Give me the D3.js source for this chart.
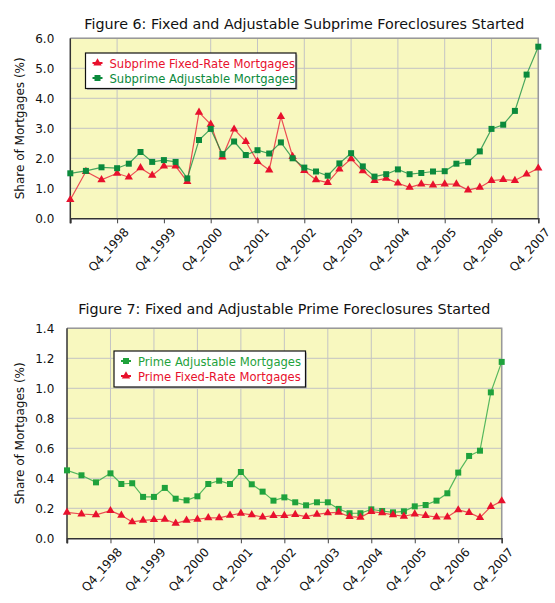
<!DOCTYPE html>
<html>
<head>
  <meta charset="utf-8">
  <title>Fixed and Adjustable Foreclosures Started</title>
  <style>
    body {
      margin: 0;
      padding: 0;
      background: white;
      font-family: "DejaVu Sans", Verdana, sans-serif;
    }
    .title { font-size: 14.3px; fill: #111; text-anchor: middle; }
    .ylabel { font-size: 12px; fill: #111; text-anchor: middle; }
    .tick text { font-size: 12px; fill: #111; }
    .grid line { stroke: #c4c4c4; stroke-width: 1; }
    .legend text { font-size: 11.6px; }
  </style>
</head>
<body>
  <div id="chart"></div>

  <script src="https://d3js.org/d3.v7.min.js"></script>
  <script>

  // quarters on the category axis
  var quarters = [
    "Q1_1998", "Q2_1998", "Q3_1998", "Q4_1998",
    "Q1_1999", "Q2_1999", "Q3_1999", "Q4_1999",
    "Q1_2000", "Q2_2000", "Q3_2000", "Q4_2000",
    "Q1_2001", "Q2_2001", "Q3_2001", "Q4_2001",
    "Q1_2002", "Q2_2002", "Q3_2002", "Q4_2002",
    "Q1_2003", "Q2_2003", "Q3_2003", "Q4_2003",
    "Q1_2004", "Q2_2004", "Q3_2004", "Q4_2004",
    "Q1_2005", "Q2_2005", "Q3_2005", "Q4_2005",
    "Q1_2006", "Q2_2006", "Q3_2006", "Q4_2006",
    "Q1_2007", "Q2_2007", "Q3_2007", "Q4_2007"
  ]

  // Figure 6 series (share of mortgages, %)
  var subprimeFixed = [0.62, 1.56, 1.28, 1.50, 1.37, 1.68, 1.43, 1.74, 1.74, 1.22,
    3.53, 3.13, 2.04, 2.97, 2.56, 1.89, 1.61, 3.39, 2.06, 1.59,
    1.28, 1.19, 1.64, 1.98, 1.58, 1.26, 1.33, 1.17, 1.03, 1.14,
    1.11, 1.14, 1.14, 0.94, 1.03, 1.26, 1.29, 1.26, 1.47, 1.67]
  var subprimeAdj = [1.50, 1.58, 1.70, 1.67, 1.82, 2.21, 1.88, 1.94, 1.88, 1.33,
    2.61, 2.98, 2.14, 2.56, 2.11, 2.27, 2.16, 2.53, 2.00, 1.69,
    1.56, 1.42, 1.83, 2.17, 1.73, 1.39, 1.47, 1.63, 1.47, 1.51,
    1.56, 1.57, 1.82, 1.87, 2.23, 2.98, 3.12, 3.58, 4.79, 5.72]

  // Figure 7 series (share of mortgages, %)
  var primeAdj = [0.453, 0.420, 0.373, 0.433, 0.362, 0.367, 0.276, 0.276, 0.336, 0.264,
    0.253, 0.280, 0.362, 0.384, 0.362, 0.442, 0.360, 0.311, 0.251, 0.273,
    0.240, 0.220, 0.240, 0.240, 0.196, 0.167, 0.167, 0.193, 0.182, 0.173,
    0.180, 0.213, 0.222, 0.251, 0.300, 0.438, 0.549, 0.584, 0.973, 1.176]
  var primeFixed = [0.173, 0.162, 0.156, 0.184, 0.153, 0.109, 0.120, 0.124, 0.127, 0.100,
    0.120, 0.127, 0.136, 0.136, 0.153, 0.167, 0.156, 0.142, 0.151, 0.151,
    0.158, 0.144, 0.160, 0.169, 0.173, 0.144, 0.140, 0.178, 0.169, 0.156,
    0.147, 0.162, 0.151, 0.142, 0.142, 0.189, 0.171, 0.138, 0.211, 0.249]

  var yTicks6 = [0, 1, 2, 3, 4, 5, 6]
  var yTicks7 = [0, 0.2, 0.4, 0.6, 0.8, 1.0, 1.2, 1.4]

  var red = "#e8112d"

  var svg = d3.select("#chart")
    .append("svg")
    .attr("width", 555)
    .attr("height", 603)

  drawChart({
    title: "Figure 6: Fixed and Adjustable Subprime Foreclosures Started",
    titleY: 29,
    left: 70.3, right: 538.3, top: 38.3, bottom: 218.3,
    yMax: 6, yTicks: yTicks6, yFormat: d3.format(".1f"), yPad: 16,
    noGrid: ["Q4_1999"],
    series: [
      {name: "Subprime Fixed-Rate Mortgages", values: subprimeFixed, color: red, shape: "tri"},
      {name: "Subprime Adjustable Mortgages", values: subprimeAdj, color: "#0b8a3c", shape: "sq"}
    ],
    legend: {x: 85.5, y: 53, w: 210.5, h: 35.5}
  })

  drawChart({
    title: "Figure 7: Fixed and Adjustable Prime Foreclosures Started",
    titleY: 314,
    left: 67, right: 501.7, top: 328.3, bottom: 538.3,
    yMax: 1.4, yTicks: yTicks7, yFormat: d3.format(".1f"), yPad: 12.7,
    noGrid: [],
    series: [
      {name: "Prime Adjustable Mortgages", values: primeAdj, color: "#1fa23c", shape: "sq"},
      {name: "Prime Fixed-Rate Mortgages", values: primeFixed, color: red, shape: "tri"}
    ],
    legend: {x: 114, y: 351, w: 191.5, h: 36}
  })

  function drawChart(c) {
    var w = c.right - c.left

    // the first year only has three steps, the others four
    var x = d3.scaleLinear()
      .domain([0, 3, quarters.length - 1])
      .range([c.left, c.left + w / 10, c.right])

    var y = d3.scaleLinear()
      .domain([0, c.yMax])
      .range([c.bottom, c.top])

    var labelIdx = quarters
      .map(function (q, i) { return i })
      .filter(function (i) { return quarters[i].indexOf("Q4") === 0 })

    // plot background
    svg.append("rect")
      .attr("x", c.left).attr("y", c.top)
      .attr("width", w).attr("height", c.bottom - c.top)
      .attr("fill", "#f8f8bf")

    // grid lines
    var grid = svg.append("g").attr("class", "grid")
    grid.selectAll(".hg")
      .data(c.yTicks.slice(1))
      .enter().append("line")
      .attr("x1", c.left).attr("x2", c.right)
      .attr("y1", function (d) { return y(d) })
      .attr("y2", function (d) { return y(d) })
    grid.selectAll(".vg")
      .data(labelIdx.filter(function (i) { return c.noGrid.indexOf(quarters[i]) < 0 }))
      .enter().append("line")
      .attr("x1", function (i) { return x(i) })
      .attr("x2", function (i) { return x(i) })
      .attr("y1", c.top).attr("y2", c.bottom)

    // frame: grey top/right, dark axes
    svg.append("path")
      .attr("d", "M" + c.left + "," + c.top + "H" + c.right + "V" + c.bottom)
      .attr("fill", "none").attr("stroke", "#999").attr("stroke-width", 1.5)

    // y axis
    var yAxis = svg.append("g")
      .attr("transform", "translate(" + c.left + ",0)")
      .call(d3.axisLeft(y).tickValues(c.yTicks).tickFormat(c.yFormat)
        .tickSize(0).tickPadding(c.yPad))
    yAxis.select(".domain").remove()
    yAxis.selectAll("text").attr("font-family", "DejaVu Sans")

    // x axis with rotated labels
    var xAxis = svg.append("g")
      .attr("transform", "translate(0," + c.bottom + ")")
      .call(d3.axisBottom(x).tickValues([0].concat(labelIdx))
        .tickFormat(function (i) { return i === 0 ? "" : quarters[i] })
        .tickSizeOuter(0).tickSize(5))
    xAxis.select(".domain").attr("stroke", "#333").attr("stroke-width", 1.5)
    xAxis.selectAll(".tick line").attr("stroke", "#444")
    xAxis.selectAll("text")
      .attr("font-family", "DejaVu Sans")
      .attr("text-anchor", "end")
      .attr("dy", 0)
      .attr("transform", "translate(6,9) rotate(-48)")

    svg.append("line")
      .attr("x1", c.left).attr("x2", c.left)
      .attr("y1", c.top).attr("y2", c.bottom + 5)
      .attr("stroke", "#333").attr("stroke-width", 1.5)

    // title and y label
    svg.append("text")
      .attr("class", "title")
      .attr("x", c.left + w / 2).attr("y", c.titleY)
      .text(c.title)
    svg.append("text")
      .attr("class", "ylabel")
      .attr("transform", "translate(24," + (c.top + c.bottom) / 2 + ") rotate(-90)")
      .text("Share of Mortgages (%)")

    // lines and markers
    var line = d3.line()
      .x(function (d, i) { return x(i) })
      .y(function (d) { return y(d) })

    c.series.forEach(function (s) {
      svg.append("path")
        .datum(s.values)
        .attr("d", line)
        .attr("fill", "none")
        .attr("stroke", s.color)
        .attr("stroke-opacity", 0.75)
        .attr("stroke-width", 1.2)
      svg.append("g").selectAll("path")
        .data(s.values)
        .enter().append("path")
        .attr("transform", function (d, i) { return "translate(" + x(i) + "," + y(d) + ")" })
        .attr("d", marker(s.shape))
        .attr("fill", s.color)
    })

    // legend
    var lg = svg.append("g").attr("class", "legend")
    lg.append("rect")
      .attr("x", c.legend.x + 1.5).attr("y", c.legend.y + 1.5)
      .attr("width", c.legend.w).attr("height", c.legend.h)
      .attr("fill", "#bbb")
    lg.append("rect")
      .attr("x", c.legend.x).attr("y", c.legend.y)
      .attr("width", c.legend.w).attr("height", c.legend.h)
      .attr("fill", "white").attr("stroke", "#111").attr("stroke-width", 1.2)
    c.series.forEach(function (s, k) {
      var ly = c.legend.y + 10 + k * 15
      lg.append("line")
        .attr("x1", c.legend.x + 7).attr("x2", c.legend.x + 17)
        .attr("y1", ly).attr("y2", ly)
        .attr("stroke", s.color).attr("stroke-width", 2)
      lg.append("path")
        .attr("transform", "translate(" + (c.legend.x + 12) + "," + ly + ")")
        .attr("d", marker(s.shape))
        .attr("fill", s.color)
      lg.append("text")
        .attr("x", c.legend.x + 24).attr("y", ly + 4.5)
        .attr("fill", s.color)
        .text(s.name)
    })
  }

  function marker(shape) {
    if (shape === "sq") return d3.symbol().type(d3.symbolSquare).size(36)()
    return d3.symbol().type(d3.symbolTriangle).size(30)()
  }
  </script>
</body>
</html>
